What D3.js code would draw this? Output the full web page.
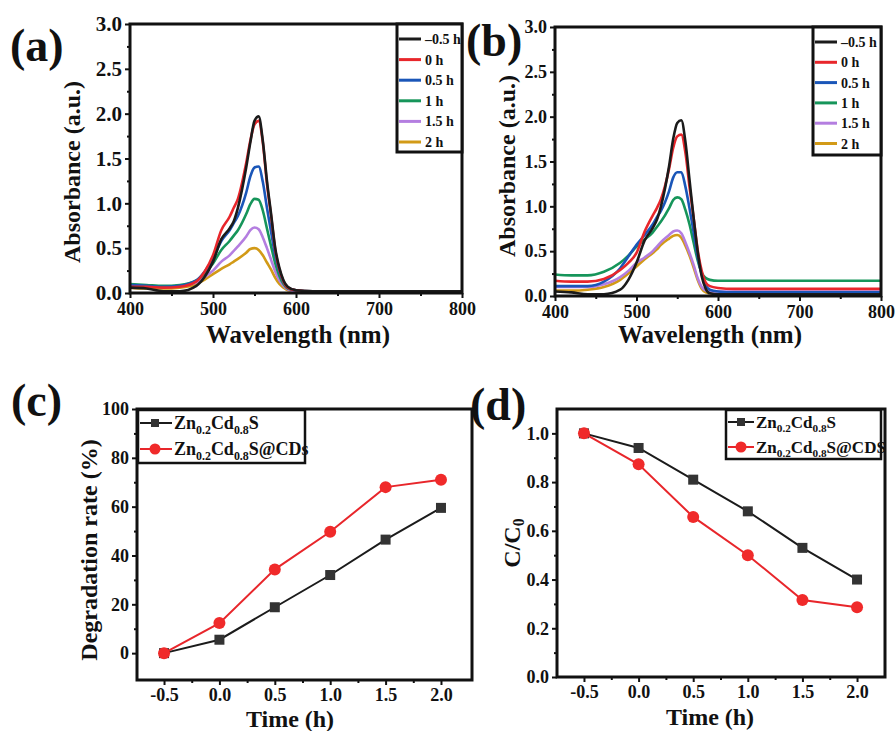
<!DOCTYPE html>
<html>
<head>
<meta charset="utf-8">
<script src="https://cdn.jsdelivr.net/npm/d3@7"></script>
<style>
body{margin:0;background:#fff}
text{font-family:"Liberation Serif","Tinos","DejaVu Serif",serif !important;font-weight:bold}
</style>
</head>
<body>
<svg id="chart"></svg>
<script>
// wavelength grid (nm) (a) and (b)
let wavelengths=[400,420,440,460,480,490,500,510,520,525,530,540,545,550,555,560,565,570,575,580,585,590,600,620,700,800]
let timeLabels=['\u20130.5 h','0 h','0.5 h','1 h','1.5 h','2 h']
let lineColors=['#1b1b1b','#e8262b','#1a56b8','#16955a','#b47ee0','#d29a17']

// panel (a) absorbance
let specA_m05=[0.06,0.05,0.02,0.02,0.08,0.18,0.35,0.60,0.72,0.80,0.95,1.40,1.68,1.92,1.97,1.70,1.25,0.88,0.50,0.28,0.14,0.07,0.03,0.02,0.02,0.02]
let specA_0=[0.07,0.07,0.06,0.07,0.13,0.24,0.42,0.70,0.85,0.95,1.05,1.45,1.70,1.88,1.92,1.68,1.22,0.86,0.48,0.26,0.13,0.06,0.03,0.02,0.02,0.02]
let specA_05=[0.09,0.08,0.07,0.08,0.14,0.24,0.38,0.58,0.70,0.78,0.86,1.12,1.30,1.40,1.41,1.24,0.95,0.68,0.42,0.24,0.12,0.06,0.03,0.02,0.02,0.02]
let specA_1=[0.10,0.09,0.08,0.09,0.14,0.22,0.33,0.48,0.58,0.64,0.70,0.88,0.99,1.05,1.04,0.92,0.72,0.52,0.33,0.19,0.10,0.05,0.03,0.02,0.02,0.02]
let specA_15=[0.08,0.07,0.07,0.08,0.12,0.18,0.25,0.35,0.42,0.47,0.52,0.63,0.70,0.73,0.71,0.62,0.50,0.37,0.24,0.14,0.08,0.04,0.02,0.02,0.02,0.02]
let specA_2=[0.06,0.05,0.05,0.06,0.10,0.15,0.21,0.27,0.32,0.35,0.38,0.45,0.49,0.50,0.48,0.42,0.34,0.26,0.17,0.10,0.06,0.03,0.02,0.01,0.01,0.01]

// panel (b) absorbance
let specB_m05=[0.05,0.04,0.02,0.02,0.07,0.18,0.37,0.62,0.76,0.85,1.00,1.45,1.75,1.93,1.96,1.72,1.30,0.88,0.50,0.22,0.08,0.03,0.02,0.02,0.02,0.02]
let specB_0=[0.17,0.16,0.16,0.19,0.29,0.37,0.48,0.72,0.90,0.98,1.08,1.42,1.65,1.78,1.80,1.60,1.22,0.88,0.52,0.28,0.15,0.11,0.09,0.08,0.08,0.08]
let specB_05=[0.11,0.11,0.11,0.16,0.31,0.44,0.57,0.68,0.80,0.88,0.95,1.17,1.32,1.38,1.38,1.22,0.98,0.72,0.44,0.24,0.12,0.07,0.05,0.04,0.04,0.04]
let specB_1=[0.24,0.23,0.23,0.27,0.37,0.45,0.55,0.63,0.71,0.77,0.83,0.98,1.07,1.10,1.08,0.96,0.80,0.60,0.40,0.26,0.20,0.18,0.17,0.17,0.17,0.17]
let specB_15=[0.10,0.10,0.10,0.13,0.21,0.28,0.37,0.43,0.50,0.55,0.60,0.68,0.72,0.73,0.70,0.60,0.48,0.35,0.20,0.10,0.06,0.05,0.05,0.05,0.05,0.05]
let specB_2=[0.06,0.06,0.07,0.10,0.18,0.25,0.33,0.41,0.48,0.52,0.57,0.64,0.67,0.68,0.65,0.56,0.45,0.32,0.18,0.08,0.04,0.03,0.02,0.02,0.02,0.02]

// panels (c) and (d)
let times=[-0.5,0,0.5,1,1.5,2]
let degZCS=[0,5.5,18.8,32,46.5,59.5]
let degZCSCD=[0,12.3,34.3,49.7,68,71]
let ccZCS=[1,0.94,0.81,0.68,0.53,0.40]
let ccZCSCD=[1,0.873,0.657,0.5,0.316,0.286]

// legend labels: [text, isSubscript]
let nameZCS=[['Zn',0],['0.2',1],['Cd',0],['0.8',1],['S',0]]
let nameZCSCDc=[['Zn',0],['0.2',1],['Cd',0],['0.8',1],['S@CDs',0]]
let nameZCSCDd=[['Zn',0],['0.2',1],['Cd',0],['0.8',1],['S@CDS',0]]

let svg=d3.select('#chart').attr('width',895).attr('height',731)
let fmt1=d=>d.toFixed(1)

let makeAxes=(g,box,x,y,opt)=>{
  let bot=d3.axisBottom(x).tickValues(opt.xMajor).tickSize(5).tickPadding(opt.xPad).tickFormat(opt.xFmt)
  let botMinor=d3.axisBottom(x).tickValues(opt.xMinor).tickSize(3).tickFormat('')
  let left=d3.axisLeft(y).tickValues(opt.yMajor).tickSize(5).tickPadding(3).tickFormat(opt.yFmt)
  let leftMinor=d3.axisLeft(y).tickValues(opt.yMinor).tickSize(3).tickFormat('')
  let gx=g.append('g').attr('transform','translate(0,'+box.b+')').call(bot)
  g.append('g').attr('transform','translate(0,'+box.b+')').call(botMinor)
  let gy=g.append('g').attr('transform','translate('+box.l+',0)').call(left)
  g.append('g').attr('transform','translate('+box.l+',0)').call(leftMinor)
  g.selectAll('.domain').remove()
  g.selectAll('.tick line').attr('stroke','#111').attr('stroke-width',2)
  gx.selectAll('text').attr('font-size',opt.xFs).attr('fill','#111')
  gy.selectAll('text').attr('font-size',opt.yFs).attr('fill','#111')
  g.append('rect').attr('x',box.l).attr('y',box.t).attr('width',box.r-box.l).attr('height',box.b-box.t)
    .attr('fill','none').attr('stroke','#111').attr('stroke-width',3)
}

let addText=(g,x,y,size,parts,anchor,rot)=>{
  let t=g.append('text').attr('font-size',size).attr('fill','#111').attr('text-anchor',anchor||'start')
  if(rot){t.attr('transform','translate('+x+','+y+') rotate(-90)')}else{t.attr('x',x).attr('y',y)}
  let sub=false
  parts.forEach(p=>{
    let s=t.append('tspan').text(p[0])
    if(p[1]&&!sub){s.attr('font-size',size*0.66).attr('dy',size*0.25);sub=true}
    else if(!p[1]&&sub){s.attr('dy',-size*0.25);sub=false}
  })
  return t
}

let spectrumPanel=(box,series,legendBox,opt)=>{
  let g=svg.append('g')
  let x=d3.scaleLinear().domain([400,800]).range([box.l,box.r])
  let y=d3.scaleLinear().domain([0,3]).range([box.b,box.t])
  let clipId='clip'+opt.id
  svg.append('clipPath').attr('id',clipId).append('rect')
    .attr('x',box.l).attr('y',box.t).attr('width',box.r-box.l).attr('height',box.b-box.t)
  let line=d3.line().x((d,i)=>x(wavelengths[i])).y(d=>y(d)).curve(d3.curveMonotoneX)
  // later times first so the -0.5 h curve sits on top
  series.slice().reverse().forEach((s,k)=>{
    let i=series.length-1-k
    g.append('path').attr('d',line(s)).attr('fill','none').attr('stroke',lineColors[i])
      .attr('stroke-width',2.6).attr('clip-path','url(#'+clipId+')')
  })
  makeAxes(g,box,x,y,{xMajor:[400,500,600,700,800],xMinor:[450,550,650,750],xFmt:d3.format('d'),xPad:4,
    yMajor:[0,0.5,1,1.5,2,2.5,3],yMinor:[0.25,0.75,1.25,1.75,2.25,2.75],yFmt:fmt1,xFs:18,yFs:opt.yFs})
  let lg=g.append('g')
  lg.append('rect').attr('x',legendBox.l).attr('y',legendBox.t).attr('width',legendBox.r-legendBox.l)
    .attr('height',legendBox.b-legendBox.t).attr('fill','#fff').attr('stroke','#111').attr('stroke-width',3)
  timeLabels.forEach((lab,i)=>{
    let yy=legendBox.t+opt.legY0+i*opt.legStep
    lg.append('line').attr('x1',legendBox.l+2).attr('x2',legendBox.l+24).attr('y1',yy).attr('y2',yy)
      .attr('stroke',lineColors[i]).attr('stroke-width',3)
    lg.append('text').attr('x',legendBox.l+28).attr('y',yy+5).attr('font-size',14).attr('fill','#111').text(lab)
  })
  addText(g,opt.yTitleX,opt.yTitleY,24,[['Absorbance (a.u.)',0]],'middle',true).attr('dominant-baseline','central')
  addText(g,opt.xTitleX,343,25,[['Wavelength (nm)',0]],'middle')
  addText(g,opt.labX,opt.labY,46,[[opt.label,0]])
}

let ratePanel=(box,xDom,yDom,opt)=>{
  let g=svg.append('g')
  let x=d3.scaleLinear().domain(xDom).range([box.l,box.r])
  let y=d3.scaleLinear().domain(yDom).range([box.b,box.t])
  makeAxes(g,box,x,y,{xMajor:times,xMinor:[-0.25,0.25,0.75,1.25,1.75],xFmt:fmt1,xPad:3,
    yMajor:opt.yMajor,yMinor:opt.yMinor,yFmt:opt.yFmt,xFs:18,yFs:18})
  let line=d3.line().x((d,i)=>x(times[i])).y(d=>y(d))
  g.append('path').attr('d',line(opt.black)).attr('fill','none').attr('stroke','#1b1b1b').attr('stroke-width',2)
  g.append('path').attr('d',line(opt.red)).attr('fill','none').attr('stroke','#e8262b').attr('stroke-width',2)
  g.selectAll('rect.sq').data(opt.black).enter().append('rect').attr('class','sq')
    .attr('x',(d,i)=>x(times[i])-5).attr('y',d=>y(d)-5).attr('width',10).attr('height',10).attr('fill','#333')
  g.selectAll('circle.rd').data(opt.red).enter().append('circle').attr('class','rd')
    .attr('cx',(d,i)=>x(times[i])).attr('cy',d=>y(d)).attr('r',6).attr('fill','#f02a2a')
  let lb=opt.leg
  g.append('rect').attr('x',lb.l).attr('y',lb.t).attr('width',lb.r-lb.l).attr('height',lb.b-lb.t)
    .attr('fill','#fff').attr('stroke','#111').attr('stroke-width',2.5)
  let y1=lb.t+opt.legY[0], y2=lb.t+opt.legY[1]
  g.append('line').attr('x1',lb.l+2).attr('x2',lb.l+opt.legLine).attr('y1',y1).attr('y2',y1).attr('stroke','#1b1b1b').attr('stroke-width',2)
  g.append('rect').attr('x',lb.l+opt.legMark-4).attr('y',y1-4).attr('width',8).attr('height',8).attr('fill','#333')
  g.append('line').attr('x1',lb.l+2).attr('x2',lb.l+opt.legLine).attr('y1',y2).attr('y2',y2).attr('stroke','#e8262b').attr('stroke-width',2)
  g.append('circle').attr('cx',lb.l+opt.legMark).attr('cy',y2).attr('r',5.5).attr('fill','#f02a2a')
  addText(g,lb.l+opt.legLine+2,y1+6,opt.legFs,nameZCS)
  addText(g,lb.l+opt.legLine+2,y2+6,opt.legFs,opt.redName)
  addText(g,opt.yTitleX,opt.yTitleY,24,opt.yTitle,'middle',true).attr('dominant-baseline','central')
  addText(g,opt.xTitleX,opt.xTitleY,24,[['Time (h)',0]],'middle')
  addText(g,opt.labX,opt.labY,46,[[opt.label,0]])
}

spectrumPanel({l:130,t:24,r:462,b:293},[specA_m05,specA_0,specA_05,specA_1,specA_15,specA_2],
  {l:397,t:24,r:462,b:152},{id:'a',yFs:21,legY0:15,legStep:20.6,yTitleX:72,yTitleY:172,xTitleX:298,labX:10,labY:61,label:'(a)'})
spectrumPanel({l:555,t:27,r:881,b:296},[specB_m05,specB_0,specB_05,specB_1,specB_15,specB_2],
  {l:813,t:27,r:881,b:155},{id:'b',yFs:18,legY0:15,legStep:20.3,yTitleX:507,yTitleY:166,xTitleX:710,labX:466,labY:56,label:'(b)'})

ratePanel({l:137,t:409,r:472,b:680},[-0.744,2.28],[-11,100],{black:degZCS,red:degZCSCD,
  yMajor:[0,20,40,60,80,100],yMinor:[10,30,50,70,90],yFmt:d3.format('d'),
  leg:{l:138,t:410,r:305,b:463},legY:[13,39],legLine:34,legMark:17,legFs:18,redName:nameZCSCDc,
  yTitle:[['Degradation rate (%)',0]],yTitleX:89,yTitleY:550,xTitleX:290,xTitleY:727,labX:11,labY:416,label:'(c)'})
ratePanel({l:557,t:409,r:885,b:677},[-0.747,2.256],[0,1.1],{black:ccZCS,red:ccZCSCD,
  yMajor:[0,0.2,0.4,0.6,0.8,1.0],yMinor:[0.1,0.3,0.5,0.7,0.9],yFmt:fmt1,
  leg:{l:726,t:410,r:881,b:459},legY:[12,37],legLine:28,legMark:15,legFs:17,redName:nameZCSCDd,
  yTitle:[['C/C',0],['0',1]],yTitleX:512,yTitleY:543,xTitleX:710,xTitleY:725,labX:470,labY:420,label:'(d)'})
</script>
</body>
</html>
